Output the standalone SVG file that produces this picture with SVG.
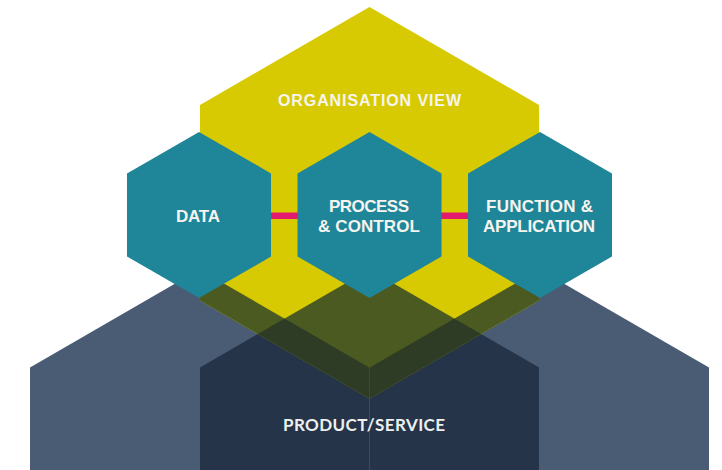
<svg xmlns="http://www.w3.org/2000/svg" width="722" height="470" viewBox="0 0 722 470">
  <style>
    .slate { fill: #4a5b74; }
    .navy { fill: #263449; }
    .yellow { fill: #d8ca02; }
    .olive { fill: #4a5a21; }
    .darkolive { fill: #2e3c25; }
    .teal { fill: #1f8598; }
    .pink { fill: #e2196d; }
    .lbl { font-family: "Liberation Sans", Arial, sans-serif; font-weight: bold; fill: #f6f4ef; text-anchor: middle; }
    .lbl-prod { font-family: Lato, "Liberation Sans", Arial, sans-serif; font-weight: bold; fill: #eef0f0; text-anchor: middle; }
  </style>
  <defs>
    <polygon id="hexLeft" points="199.5,269.5 369.2,367.4 369.2,563 199.5,661 30,563 30,367.4"/>
    <polygon id="hexRight" points="539.5,269.5 709,367.4 709,563 539.5,661 369.8,563 369.8,367.4"/>
    <polygon id="hexNavy" points="369.5,269.5 539,367.4 539,563 369.5,661 200,563 200,367.4"/>
    <polygon id="hexYellow" points="369.5,7 539,104.9 539,300.6 369.5,398.4 200,300.6 200,104.9"/>
    <clipPath id="clipSlates">
      <use href="#hexLeft"/>
      <use href="#hexRight"/>
    </clipPath>
    <clipPath id="clipYellow">
      <use href="#hexYellow"/>
    </clipPath>
  </defs>

  <g id="product-service">
    <use href="#hexLeft" class="slate"/>
    <use href="#hexRight" class="slate"/>
    <use href="#hexNavy" class="slate"/>
    <g clip-path="url(#clipSlates)">
      <use href="#hexNavy" class="navy"/>
    </g>
  </g>

  <g id="organisation-view">
    <use href="#hexYellow" class="yellow"/>
    <g clip-path="url(#clipYellow)">
      <use href="#hexLeft" class="olive"/>
      <use href="#hexRight" class="olive"/>
      <use href="#hexNavy" class="olive"/>
      <g clip-path="url(#clipSlates)">
        <use href="#hexNavy" class="darkolive"/>
      </g>
    </g>
    <text class="lbl" x="369.5" y="105.5" font-size="16" textLength="183">ORGANISATION VIEW</text>
  </g>

  <g id="product-service-label">
    <text class="lbl-prod" x="364" y="431" font-size="17" textLength="162">PRODUCT/SERVICE</text>
  </g>

  <g id="connectors">
    <rect class="pink" x="270" y="212.5" width="28" height="6.5"/>
    <rect class="pink" x="441" y="212.5" width="28" height="6.5"/>
  </g>

  <g id="data">
    <polygon class="teal" points="199,131.9 271,173.4 271,256.6 199,298.1 127,256.6 127,173.4"/>
    <text class="lbl" x="198" y="221.5" font-size="17" textLength="44">DATA</text>
  </g>

  <g id="process-control">
    <polygon class="teal" points="369.5,131.9 441.5,173.4 441.5,256.6 369.5,298.1 297.5,256.6 297.5,173.4"/>
    <text class="lbl" x="369" y="212" font-size="17" textLength="80">PROCESS</text>
    <text class="lbl" x="369" y="232" font-size="17" textLength="102">&amp; CONTROL</text>
  </g>

  <g id="function-application">
    <polygon class="teal" points="540,131.9 612,173.4 612,256.6 540,298.1 468,256.6 468,173.4"/>
    <text class="lbl" x="539.5" y="212" font-size="17" textLength="107">FUNCTION &amp;</text>
    <text class="lbl" x="539" y="232" font-size="17" textLength="112">APPLICATION</text>
  </g>
</svg>
